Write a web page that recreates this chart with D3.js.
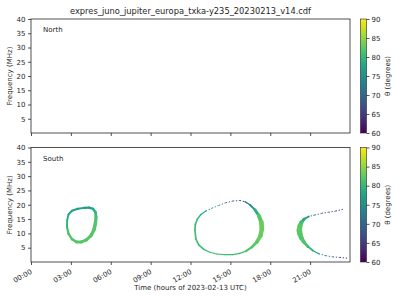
<!DOCTYPE html>
<html>
<head>
<meta charset="utf-8">
<script src="https://cdn.jsdelivr.net/npm/d3@7"></script>
<style>
  body { margin: 0; background: #fff; }
  svg { display: block; font-family: "DejaVu Sans", sans-serif; }
</style>
</head>
<body>
<svg id="chart" width="400" height="300"></svg>
<script>
const title = "expres_juno_jupiter_europa_txka-y235_20230213_v14.cdf";
const hemispheres = ["North", "South"];
const hourTicks = [0, 3, 6, 9, 12, 15, 18, 21];
const freqTicks = [5, 10, 15, 20, 25, 30, 35, 40];
const thetaTicks = [60, 65, 70, 75, 80, 85, 90];

// South panel: time (h), frequency (MHz), theta (deg), band (MHz thickness)
const ring1Time = [2.72, 2.82, 3.08, 3.53, 3.98, 4.36, 4.66, 4.85, 4.89, 4.85, 4.74, 4.51, 4.17, 3.80, 3.42, 3.08, 2.82, 2.71];
const ring1Freq = [14.6, 16.6, 17.9, 18.6, 18.9, 19.0, 18.6, 17.4, 15.7, 13.6, 11.3, 9.2, 7.7, 7.0, 7.0, 8.0, 9.9, 12.2];
const ring1Theta = [79, 78, 77, 77, 77, 76.5, 77, 79, 81, 82, 82, 82, 82, 82, 82, 82, 81.5, 81];
const ring1Band = [0.66, 0.66, 0.66, 0.66, 0.7, 0.75, 0.8, 0.87, 1.05, 1.25, 1.25, 1.1, 1.05, 1.05, 0.95, 0.87, 0.8, 0.75];

const ring2Time = [12.33, 12.37, 12.52, 12.78, 13.16, 13.61, 14.14, 14.66, 15.19, 15.71, 16.09, 16.47, 16.84, 17.14, 17.33, 17.37, 17.26, 16.99, 16.62, 16.17, 15.71, 15.19, 14.59, 13.98, 13.46, 13.01, 12.63, 12.41];
const ring2Freq = [11.1, 13.2, 15.0, 16.6, 17.8, 18.8, 19.8, 20.7, 21.3, 21.5, 21.1, 20.0, 18.3, 16.2, 13.9, 11.5, 9.1, 7.0, 5.2, 3.8, 3.0, 2.6, 2.6, 2.8, 3.4, 4.4, 5.9, 8.0];
const ring2Theta = [81, 80.5, 80, 79, 78, 76, 73, 70, 68, 67, 69, 73, 77, 81, 83, 83, 83, 82.5, 82, 81.5, 81, 80.5, 80.5, 81, 81, 80.5, 80.5, 81];
const ring2Band = [0.6, 0.6, 0.55, 0.45, 0.38, 0.33, 0.33, 0.33, 0.33, 0.33, 0.38, 0.5, 0.8, 1.15, 1.65, 1.65, 1.45, 1.1, 0.85, 0.6, 0.45, 0.4, 0.4, 0.42, 0.45, 0.48, 0.55, 0.6];

const arcTime = [23.46, 22.93, 22.41, 21.88, 21.35, 20.90, 20.56, 20.34, 20.23, 20.19, 20.23, 20.34, 20.53, 20.83, 21.20, 21.65, 22.18, 22.71, 23.23, 23.83];
const arcFreq = [18.4, 17.8, 17.4, 17.0, 16.4, 15.9, 15.0, 13.8, 12.5, 11.1, 9.8, 8.4, 7.0, 5.4, 4.0, 2.9, 2.2, 1.8, 1.6, 1.3];
const arcTheta = [62, 64, 66, 68, 71, 74, 77, 80, 82, 82.5, 82.5, 82, 82, 81, 79, 76, 73, 70, 66, 62];
const arcBand = [0.33, 0.33, 0.33, 0.33, 0.33, 0.42, 0.8, 1.3, 1.65, 2.0, 1.85, 1.5, 1.15, 0.8, 0.5, 0.38, 0.33, 0.33, 0.33, 0.33];

const svg = d3.select("#chart");
const left = 31, right = 350;
const panels = [{top: 19, bottom: 133}, {top: 147.5, bottom: 262}];
const ink = "#262626";

const x = d3.scaleLinear().domain([0, 24]).range([left, right]);
const color = d3.scaleSequential(d3.interpolateViridis).domain([60, 90]);

const fmtHour = h => String(h).padStart(2, "0") + ":00";

svg.append("text")
    .attr("x", (left + right) / 2)
    .attr("y", 14)
    .attr("text-anchor", "middle")
    .attr("fill", ink)
    .style("font-size", "8.3px")
    .text(title);

// viridis gradient for colorbars
const grad = svg.append("defs").append("linearGradient")
    .attr("id", "viridis")
    .attr("x1", 0).attr("y1", 1).attr("x2", 0).attr("y2", 0);
d3.range(0, 1.001, 0.05).forEach(t => {
    grad.append("stop").attr("offset", t).attr("stop-color", d3.interpolateViridis(t));
});

function buildRing(time, freq, theta, band) {
    return time.map((t, i) => ({t, f: freq[i], theta: theta[i], band: band[i]}));
}

const shapes = [
    {pts: buildRing(ring1Time, ring1Freq, ring1Theta, ring1Band), closed: true},
    {pts: buildRing(ring2Time, ring2Freq, ring2Theta, ring2Band), closed: true},
    {pts: buildRing(arcTime, arcFreq, arcTheta, arcBand), closed: false}
];

panels.forEach((p, k) => {
    const y = d3.scaleLinear().domain([0, 40]).range([p.bottom, p.top]);
    const g = svg.append("g");

    // data (south only)
    if (k === 1) {
        const segs = [];
        shapes.forEach(s => {
            const n = s.pts.length;
            const m = s.closed ? n : n - 1;
            for (let i = 0; i < m; i++) {
                segs.push([s.pts[i], s.pts[(i + 1) % n]]);
            }
        });
        const thin = d => (d[0].band + d[1].band) / 2 < 0.4;
        g.append("g")
            .selectAll("line")
            .data(segs)
            .join("line")
            .attr("x1", d => x(d[0].t))
            .attr("y1", d => y(d[0].f))
            .attr("x2", d => x(d[1].t))
            .attr("y2", d => y(d[1].f))
            .attr("stroke", d => color((d[0].theta + d[1].theta) / 2))
            .attr("stroke-width", d => y(0) - y((d[0].band + d[1].band) / 2))
            .attr("stroke-linecap", d => thin(d) ? "butt" : "round")
            .attr("stroke-dasharray", d => thin(d) ? "1.3,1.7" : null);
    }

    // y axis
    const gy = g.append("g")
        .attr("transform", `translate(${left},0)`)
        .call(d3.axisLeft(y).tickValues(freqTicks).tickSize(3).tickPadding(2.5));
    gy.select(".domain").remove();
    gy.selectAll("line").attr("stroke", ink).attr("stroke-width", 0.8);
    gy.selectAll("text").attr("fill", ink).style("font-size", "7px").style("font-family", "DejaVu Sans");

    // x axis
    const gx = g.append("g")
        .attr("transform", `translate(0,${p.bottom})`)
        .call(d3.axisBottom(x).tickValues(hourTicks).tickSize(3).tickFormat(fmtHour));
    gx.select(".domain").remove();
    gx.selectAll("line").attr("stroke", ink).attr("stroke-width", 0.8);
    if (k === 1) {
        gx.selectAll("text")
            .attr("fill", ink)
            .attr("text-anchor", "end")
            .attr("y", 0).attr("dy", 0)
            .attr("transform", "translate(1,11) rotate(-30)")
            .style("font-size", "7px")
            .style("font-family", "DejaVu Sans");
    } else {
        gx.selectAll("text").remove();
    }

    // frame
    g.append("rect")
        .attr("x", left).attr("y", p.top)
        .attr("width", right - left).attr("height", p.bottom - p.top)
        .attr("fill", "none").attr("stroke", ink).attr("stroke-width", 0.8);

    g.append("text")
        .attr("x", 43).attr("y", p.top + 13)
        .attr("fill", ink)
        .style("font-size", "7px")
        .text(hemispheres[k]);

    g.append("text")
        .attr("transform", `translate(12,${(p.top + p.bottom) / 2}) rotate(-90)`)
        .attr("text-anchor", "middle")
        .attr("fill", ink)
        .style("font-size", "7px")
        .text("Frequency (MHz)");

    // colorbar
    const cy = d3.scaleLinear().domain([60, 90]).range([p.bottom, p.top]);
    g.append("rect")
        .attr("x", 360.5).attr("y", p.top)
        .attr("width", 6).attr("height", p.bottom - p.top)
        .attr("fill", "url(#viridis)")
        .attr("stroke", ink).attr("stroke-width", 0.6);
    const gc = g.append("g")
        .attr("transform", "translate(366.5,0)")
        .call(d3.axisRight(cy).tickValues(thetaTicks).tickSize(3).tickPadding(2));
    gc.select(".domain").remove();
    gc.selectAll("line").attr("stroke", ink).attr("stroke-width", 0.8);
    gc.selectAll("text").attr("fill", ink).style("font-size", "7px").style("font-family", "DejaVu Sans");

    g.append("text")
        .attr("transform", `translate(390,${(p.top + p.bottom) / 2}) rotate(-90)`)
        .attr("text-anchor", "middle")
        .attr("fill", ink)
        .style("font-size", "7px")
        .text("θ (degrees)");
});

svg.append("text")
    .attr("x", (left + right) / 2)
    .attr("y", 290)
    .attr("text-anchor", "middle")
    .attr("fill", ink)
    .style("font-size", "7px")
    .text("Time (hours of 2023-02-13 UTC)");
</script>
</body>
</html>
